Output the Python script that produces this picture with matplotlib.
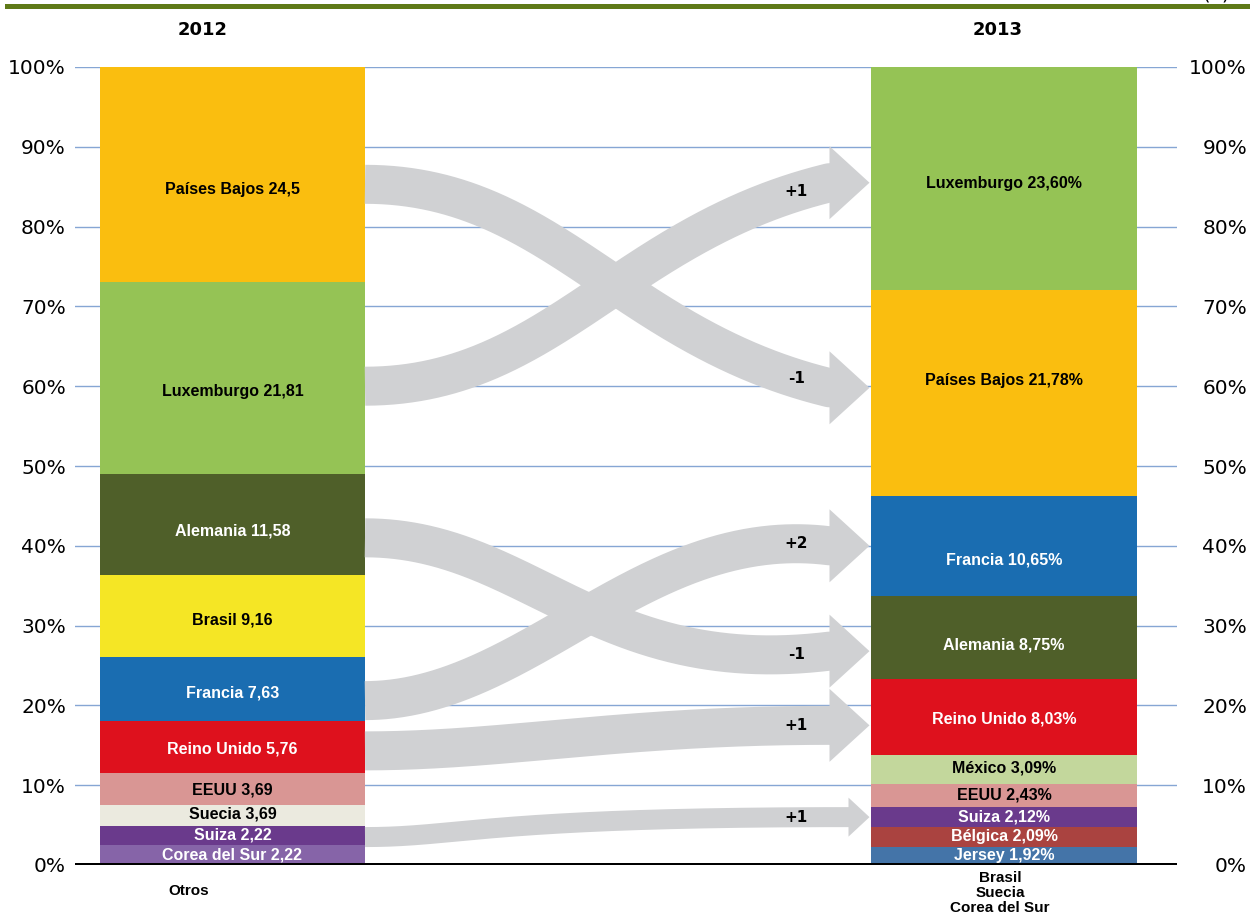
import matplotlib
matplotlib.use("Agg")
import matplotlib.pyplot as plt
import matplotlib.transforms as mtransforms
import numpy as np
from matplotlib.patches import Polygon

# datos, de abajo hacia arriba
paises_2012 = ["Corea del Sur", "Suiza", "Suecia", "EEUU", "Reino Unido",
               "Francia", "Brasil", "Alemania", "Luxemburgo", "Países Bajos"]
valores_2012 = ["2,22", "2,22", "3,69", "3,69", "5,76",
                "7,63", "9,16", "11,58", "21,81", "24,5"]
cuota_2012 = [2.5, 2.4, 2.6, 4.0, 6.5, 8.1, 10.2, 12.7, 24.1, 26.9]

paises_2013 = ["Jersey", "Bélgica", "Suiza", "EEUU", "México",
               "Reino Unido", "Alemania", "Francia", "Países Bajos", "Luxemburgo"]
valores_2013 = ["1,92%", "2,09%", "2,12%", "2,43%", "3,09%",
                "8,03%", "8,75%", "10,65%", "21,78%", "23,60%"]
cuota_2013 = [2.3, 2.5, 2.5, 2.9, 3.6, 9.5, 10.4, 12.6, 25.7, 28.0]

anios = ["2012", "2013"]
otros = ["Otros", "Brasil\nSuecia\nCorea del Sur"]

# flechas (posición en % al salir de 2012 y al llegar a 2013)
flecha_desde = [85.3, 60.0, 41.0, 20.6, 14.3, 3.5]
flecha_hasta = [59.8, 85.5, 26.8, 40.0, 17.5, 6.0]
flecha_texto = ["-1", "+1", "-1", "+2", "+1", "+1"]

# estilo
colores = {
    "Países Bajos": ("#FABE0F", "black"),
    "Luxemburgo": ("#95C355", "black"),
    "Alemania": ("#4F5F29", "white"),
    "Brasil": ("#F5E625", "black"),
    "Francia": ("#1A6DB1", "white"),
    "Reino Unido": ("#DE111D", "white"),
    "EEUU": ("#D99694", "black"),
    "Suecia": ("#EBEADF", "black"),
    "Suiza": ("#6A3A8C", "white"),
    "Corea del Sur": ("#8664A8", "white"),
    "México": ("#C3D79C", "black"),
    "Bélgica": ("#AA4340", "white"),
    "Jersey": ("#4474A8", "white"),
}
# desplazamiento vertical de las etiquetas (px hacia abajo)
ajuste_2012 = [0, 0, -2, 1, 2, 4, 4, 6, 14, 15]
ajuste_2013 = [0, 0, 0, 0, -1, 2, 7, 14, -12, 5]
gris = "#D0D1D3"
# (a, b, o, grande) forma de cada curva
forma = [
    (0.40, 0.55, -0.25, True),
    (0.40, 0.55, -0.25, True),
    (0.35, 0.50, 0.25, True),
    (0.35, 0.60, 0.15, True),
    (0.30, 0.55, 0.0, True),
    (0.20, 0.25, 0.0, False),
]

W, H = 1251, 915
fig = plt.figure(figsize=(W / 100, H / 100), dpi=100)
ax = fig.add_axes([75 / W, 50 / H, (1177 - 75) / W, (865 - 67) / H])

ancho = 265 / 771.5
px = 771.5  # pixeles por unidad x
py = 7.98  # pixeles por punto porcentual
ax.set_xlim(-157.5 / px, 1 + 173 / px)
ax.set_ylim(0, 100)
for s in ax.spines.values():
    s.set_visible(False)

ax.set_yticks(range(0, 101, 10))
ax.set_yticklabels([f"{v}%" for v in range(0, 101, 10)], fontsize=14.5)
ax.tick_params(left=False, bottom=False, labelbottom=False, length=0, pad=6.5)
ax.yaxis.grid(True, color="#86A6D4", lw=1)
ax.set_axisbelow(True)
ytrans = ax.get_yaxis_transform()
for v in range(0, 101, 10):
    ax.text(1 + 70 / 1102, v, f"{v}%", transform=ytrans, ha="right",
            va="center_baseline", fontsize=14.5)

# barras apiladas
for xpos, paises, valores, cuota, ajuste in [
        (0, paises_2012, valores_2012, cuota_2012, ajuste_2012),
        (1, paises_2013, valores_2013, cuota_2013, ajuste_2013)]:
    base = np.concatenate([[0], np.cumsum(cuota)[:-1]])
    ax.bar([xpos] * len(cuota), cuota, bottom=base, width=ancho,
           color=[colores[p][0] for p in paises], zorder=2)
    for p, v, b, c, d in zip(paises, valores, base, cuota, ajuste):
        ax.text(xpos, b + c / 2 - d / py, f"{p} {v}", ha="center", va="center",
                color=colores[p][1], fontsize=11.5, fontweight="bold",
                family="Liberation Sans", zorder=6)

ax.axhline(0, color="black", lw=3.6, zorder=5)


def bezier(p0, p1, p2, p3, n=300):
    t = np.linspace(0, 1, n)[:, None]
    return (1 - t) ** 3 * p0 + 3 * (1 - t) ** 2 * t * p1 + 3 * (1 - t) * t ** 2 * p2 + t ** 3 * p3


# flechas
x0 = ancho / 2
punta = 1 - ancho / 2 - 2 / px
x_texto = punta - 73 / px
for y0, y1, txt, (a, b, o, grande) in zip(flecha_desde, flecha_hasta, flecha_texto, forma):
    largo_cabeza = (40 if grande else 21) / px
    media_cabeza = (36.5 if grande else 19.5) / py
    lw = (39 if grande else 20) * 0.72
    xs = punta - largo_cabeza
    L = xs - x0
    curva = bezier(np.array([x0, y0]), np.array([x0 + a * L, y0]),
                   np.array([x0 + b * L, y1 + o * (y1 - y0)]), np.array([xs, y1]))
    curva = np.vstack([curva, [xs + 6 / px, y1]])
    ax.plot(curva[:, 0], curva[:, 1], color=gris, lw=lw,
            solid_capstyle="butt", zorder=3)
    ax.add_patch(Polygon([[xs, y1 + media_cabeza], [punta, y1],
                          [xs, y1 - media_cabeza]], closed=True,
                         facecolor=gris, edgecolor="none", zorder=3))
    i = np.argmin(np.abs(curva[:, 0] - x_texto))
    ax.text(x_texto, curva[i, 1], txt, ha="center", va="center",
            fontsize=11, fontweight="bold", zorder=4)

# títulos de año y textos inferiores
tr = mtransforms.blended_transform_factory(ax.transData, fig.transFigure)
ax.text(0 - 30 / px, 1 - 30 / H, anios[0], transform=tr, ha="center",
        va="center", fontsize=13, fontweight="bold")
ax.text(1 - 6 / px, 1 - 30 / H, anios[1], transform=tr, ha="center",
        va="center", fontsize=13, fontweight="bold")
ax.text(0 - 44 / px, 1 - 891 / H, otros[0], transform=tr, ha="center",
        va="center", fontsize=11, fontweight="bold", family="Liberation Sans")
ax.text(1 - 4 / px, 1 - 893 / H, otros[1], transform=tr, ha="center",
        va="center", fontsize=11, fontweight="bold", family="Liberation Sans",
        linespacing=1.08)

# línea verde superior
fig.add_artist(plt.Line2D([7 / W, 1247 / W], [1 - 5.5 / H, 1 - 5.5 / H],
                          color="#5F7A18", lw=3.6))
fig.text(1216 / W, 1 - 3 / H, "(1)", ha="center", va="bottom", fontsize=14)

fig.savefig("out.png", dpi=100)
